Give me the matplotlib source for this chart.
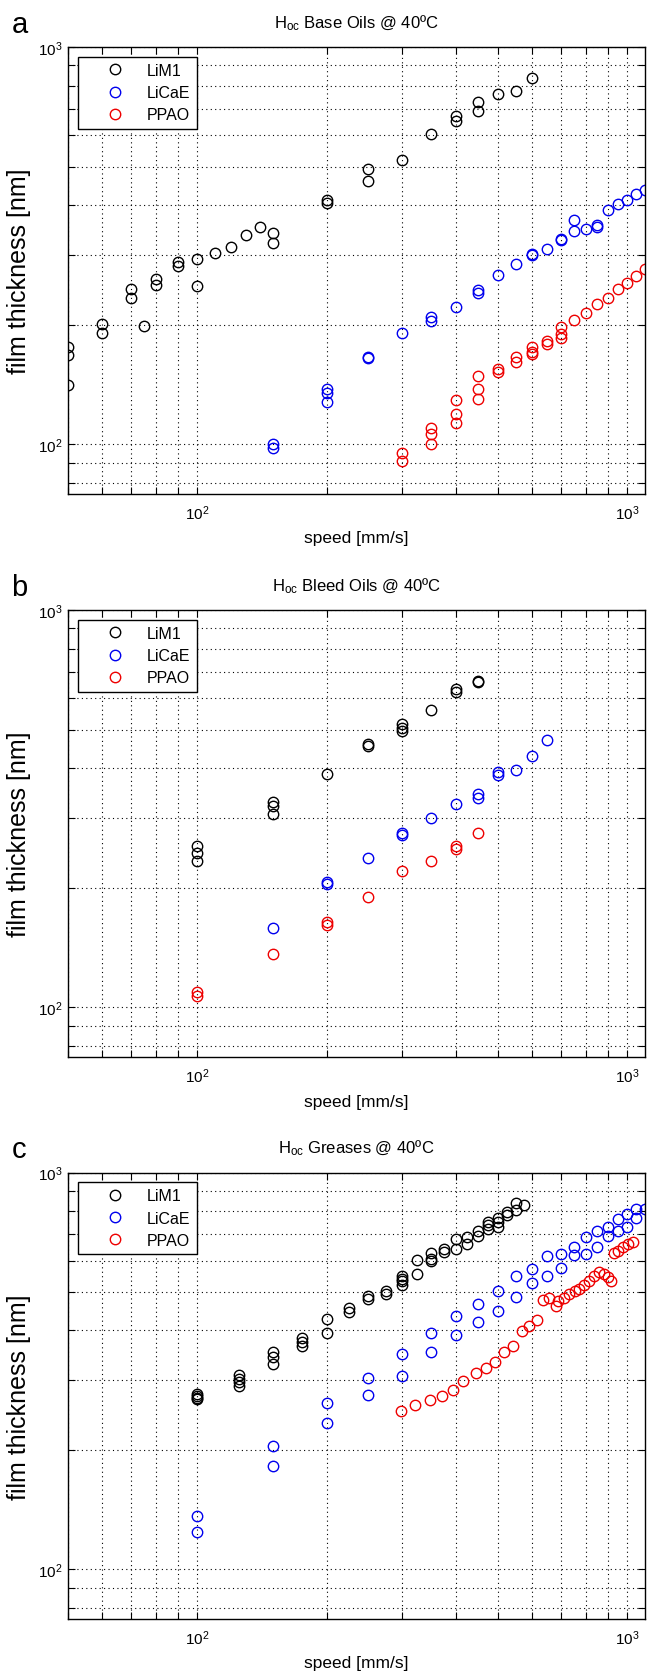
import numpy as np
import matplotlib
matplotlib.use('Agg')
import matplotlib.pyplot as plt
from matplotlib.ticker import LogLocator, NullFormatter

plt.rcParams['font.family'] = ['Liberation Sans', 'DejaVu Sans']
plt.rcParams['mathtext.fontset'] = 'custom'
plt.rcParams['mathtext.rm'] = 'Liberation Sans'
plt.rcParams['mathtext.it'] = 'Liberation Sans:italic'

names = ['LiM1', 'LiCaE', 'PPAO']
colors = ['black', '#0000ee', '#ee0000']

# (a) base oils
a_lim1_x = [50, 50, 50, 60, 60, 70, 70, 75, 80, 80, 90, 90, 100, 100, 110, 120, 130, 140, 150, 150,
            200, 200, 250, 250, 300, 350, 400, 400, 450, 450, 500, 550, 600]
a_lim1_y = [176, 168, 141, 201, 191, 246, 233, 199, 261, 252, 287, 281, 293, 251, 303, 314, 337, 353, 341, 321,
            413, 404, 494, 461, 521, 603, 671, 652, 726, 690, 761, 773, 835]
a_licae_x = [150, 150, 200, 200, 200, 250, 250, 300, 350, 350, 400, 450, 450, 500, 550, 600, 600, 650,
             700, 700, 750, 750, 800, 850, 850, 900, 950, 1000, 1050, 1100]
a_licae_y = [100, 98, 138, 135, 128, 166, 165, 191, 209, 204, 222, 245, 241, 267, 284, 300, 302, 311,
             326, 329, 366, 344, 348, 357, 352, 388, 402, 413, 426, 436]
a_ppao_x = [300, 300, 350, 350, 350, 400, 400, 400, 450, 450, 450, 500, 500, 550, 550, 600, 600, 600,
            650, 650, 700, 700, 700, 750, 800, 850, 900, 950, 1000, 1050, 1100]
a_ppao_y = [95, 91, 110, 106, 100, 129, 119, 113, 149, 138, 130, 155, 152, 166, 161, 176, 171, 169,
            182, 179, 197, 190, 185, 205, 214, 225, 234, 246, 255, 266, 276]

# (b) bleed oils
b_lim1_x = [100, 100, 100, 150, 150, 150, 200, 250, 250, 300, 300, 300, 350, 400, 400, 450, 450]
b_lim1_y = [255, 245, 234, 329, 321, 306, 386, 461, 455, 516, 506, 496, 560, 632, 620, 664, 657]
b_licae_x = [150, 200, 200, 250, 300, 300, 350, 400, 450, 450, 500, 500, 550, 600, 650]
b_licae_y = [158, 207, 204, 237, 275, 271, 300, 324, 344, 337, 390, 384, 396, 429, 470]
b_ppao_x = [100, 100, 150, 200, 200, 250, 300, 350, 400, 400, 450]
b_ppao_y = [109, 107, 136, 164, 161, 190, 221, 234, 255, 250, 274]

# (c) greases
c_lim1_x = [100, 100, 100, 100, 125, 125, 125, 125, 150, 150, 150, 175, 175, 175, 200, 200, 225, 225,
            250, 250, 275, 275, 300, 300, 300, 300, 325, 325, 350, 350, 350, 375, 375, 400, 400,
            425, 425, 450, 450, 475, 475, 475, 500, 500, 500, 525, 525, 550, 550, 575]
c_lim1_y = [277, 274, 271, 268, 309, 301, 296, 289, 352, 342, 329, 382, 373, 365, 427, 393, 455, 444,
            489, 480, 504, 494, 549, 539, 533, 520, 602, 555, 627, 605, 599, 641, 631, 680, 641,
            687, 660, 713, 693, 749, 737, 720, 766, 751, 731, 794, 782, 838, 805, 828]
c_licae_x = [100, 100, 150, 150, 200, 200, 250, 250, 300, 300, 350, 350, 400, 400, 450, 450, 500, 500,
             550, 550, 600, 600, 650, 650, 700, 700, 750, 750, 800, 800, 850, 850, 900, 900, 950, 950,
             1000, 1000, 1050, 1050, 1100]
c_licae_y = [136, 124, 205, 182, 262, 234, 303, 275, 349, 307, 395, 354, 434, 389, 466, 421, 504, 448,
             550, 487, 571, 526, 615, 550, 623, 574, 648, 620, 687, 623, 713, 648, 727, 693, 763, 713,
             786, 727, 809, 766, 809]
c_ppao_x = [297, 321, 348, 370, 393, 416, 445, 469, 492, 518, 543, 568, 592, 617, 636, 659, 684, 689,
            714, 734, 754, 774, 795, 817, 839, 862, 882, 902, 918, 934, 954, 977, 1004, 1031]
c_ppao_y = [251, 260, 267, 274, 283, 299, 313, 321, 333, 352, 366, 399, 411, 425, 477, 484, 462, 475,
            484, 494, 504, 510, 520, 533, 550, 562, 555, 544, 533, 627, 635, 648, 660, 669]

panels = [
    ('a', 'Base Oils', [(a_lim1_x, a_lim1_y), (a_licae_x, a_licae_y), (a_ppao_x, a_ppao_y)], 48, 495),
    ('b', 'Bleed Oils', [(b_lim1_x, b_lim1_y), (b_licae_x, b_licae_y), (b_ppao_x, b_ppao_y)], 611, 1058),
    ('c', 'Greases', [(c_lim1_x, c_lim1_y), (c_licae_x, c_licae_y), (c_ppao_x, c_ppao_y)], 1173.5, 1620),
]

W, H = 648, 1674
fig = plt.figure(figsize=(W / 100, H / 100), dpi=100)
left, right = 68, 645

for letter, title, series, top, bottom in panels:
    ax = fig.add_axes([left / W, 1 - bottom / H, (right - left) / W, (bottom - top) / H])
    ax.set_xscale('log')
    ax.set_yscale('log')
    for (xs, ys), name, c in zip(series, names, colors):
        ax.plot(xs, ys, linestyle='none', marker='o', markersize=7.5, markerfacecolor='none',
                markeredgecolor=c, markeredgewidth=1.0, label=name)
    ax.set_xlim(50, 1100)
    ax.set_ylim(75, 1000)
    for axis in (ax.xaxis, ax.yaxis):
        axis.set_major_locator(LogLocator(base=10))
        axis.set_minor_locator(LogLocator(base=10, subs=np.arange(2, 10)))
        axis.set_minor_formatter(NullFormatter())
    ax.tick_params(which='both', direction='in', top=True, right=True, length=5, width=0.8,
                   labelsize=11, pad=7)
    ax.tick_params(axis='y', pad=4)
    ax.grid(True, which='both', linestyle=(0, (1, 3)), color='k', linewidth=0.8)
    for s in ax.spines.values():
        s.set_linewidth(1.0)
    ax.legend(loc='upper left', fontsize=11.5, frameon=True, fancybox=False, edgecolor='k',
              framealpha=1, borderaxespad=0.6, handlelength=3.9, handletextpad=0.05,
              borderpad=0.4, labelspacing=0.45)
    ax.legend_.get_frame().set_linewidth(1.0)

    h = bottom - top
    ax.text(0.5, 1 + 25 / h, r'H$_{\mathrm{oc}}$ ' + title + ' @ 40ºC', transform=ax.transAxes,
            ha='center', va='center', fontsize=12)
    ax.text(0.5, -44 / h, 'speed [mm/s]', transform=ax.transAxes, ha='center', va='center', fontsize=12.5)
    ax.text(-49 / (right - left), 0.5, 'film thickness [nm]', transform=ax.transAxes, rotation=90,
            ha='center', va='center', fontsize=18)
    fig.text(19.5 / W, 1 - (top - 23) / H, letter, ha='center', va='center', fontsize=21)

fig.savefig('out.png', dpi=100)
